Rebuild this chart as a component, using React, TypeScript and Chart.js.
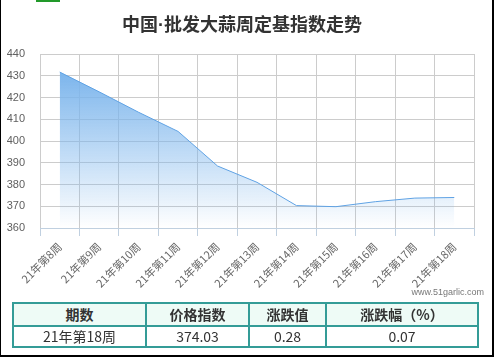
import React, { useEffect, useRef } from 'react';
import { Chart, registerables } from 'chart.js';

Chart.register(...registerables);

const titleText = '中国·批发大蒜周定基指数走势';
const categories = [
  '21年第8周', '21年第9周', '21年第10周', '21年第11周', '21年第12周', '21年第13周',
  '21年第14周', '21年第15周', '21年第16周', '21年第17周', '21年第18周',
];
const indexValues = [431.7, 422.6, 413.2, 404.4, 388.5, 381.0, 370.3, 369.8, 372.1, 373.75, 374.03];
const yTicks = [360, 370, 380, 390, 400, 410, 420, 430, 440];
const tableHeaders = ['期数', '价格指数', '涨跌值', '涨跌幅（%）'];
const tableRow = ['21年第18周', '374.03', '0.28', '0.07'];
const watermark = 'www.51garlic.com';

const W = 494;
const H = 357;
const CJK = '"Noto Sans CJK SC", "Noto Sans", sans-serif';
const LATIN = '"Liberation Sans", Arial, sans-serif';

// table geometry
const colEdges = [12, 145, 248, 325, 477];
const rowEdges = [302, 325, 346];
const LINE = 2;
const TEAL = '#349c97';

export default function App() {
  const ref = useRef<HTMLCanvasElement | null>(null);

  useEffect(() => {
    if (!ref.current) return;
    const maxVal = Math.max(...indexValues);
    const chart = new Chart(ref.current, {
      type: 'line',
      data: {
        labels: categories,
        datasets: [
          {
            data: indexValues,
            borderColor: '#5fa2e4',
            borderWidth: 1,
            pointRadius: 0,
            tension: 0,
            fill: 'start',
            backgroundColor: (ctx: any) => {
              const c = ctx.chart;
              const area = c.chartArea;
              if (!area) return 'rgba(124,181,236,0.5)';
              const top = c.scales.y.getPixelForValue(maxVal);
              const g = c.ctx.createLinearGradient(0, top, 0, area.bottom);
              g.addColorStop(0, 'rgba(124,181,236,1)');
              g.addColorStop(1, 'rgba(124,181,236,0)');
              return g;
            },
          },
        ],
      },
      options: {
        responsive: false,
        animation: false,
        layout: { padding: { top: 54, left: 0, right: 20, bottom: 0 } },
        plugins: {
          legend: { display: false },
          title: { display: false },
          tooltip: { enabled: false },
        },
        scales: {
          x: {
            type: 'category',
            offset: true,
            grid: {
              offset: true,
              color: '#cccccc',
              tickColor: '#c0d0e0',
              tickLength: 8,
              drawTicks: true,
            },
            border: { display: true, color: '#c0d0e0', width: 1 },
            ticks: {
              autoSkip: false,
              minRotation: 45,
              maxRotation: 45,
              padding: 4,
              color: '#666666',
              font: { family: CJK, size: 11 },
            },
            afterFit: (s: any) => {
              s.height = 129;
            },
          },
          y: {
            min: 360,
            max: 440,
            grid: { color: '#cccccc', drawTicks: false },
            border: { display: false },
            ticks: {
              padding: 15,
              color: '#606060',
              font: { family: LATIN, size: 11 },
            },
            afterBuildTicks: (s: any) => {
              s.ticks = yTicks.map((v) => ({ value: v }));
            },
            afterFit: (s: any) => {
              s.width = 40;
            },
          },
        },
      },
    });
    return () => chart.destroy();
  }, []);

  const cells: React.ReactNode[] = [];
  for (let r = 0; r < 2; r++) {
    const texts = r === 0 ? tableHeaders : tableRow;
    for (let c = 0; c < 4; c++) {
      const left = colEdges[c] + LINE;
      const top = rowEdges[r] + LINE;
      const width = colEdges[c + 1] - colEdges[c] - LINE;
      const height = rowEdges[r + 1] - rowEdges[r] - LINE;
      cells.push(
        <div
          key={`c${r}-${c}`}
          style={{
            position: 'absolute',
            left,
            top,
            width,
            height,
            background: r === 0 ? '#eefbf6' : '#ffffff',
            color: '#333333',
            fontFamily: CJK,
            fontSize: 14,
            fontWeight: r === 0 ? 'bold' : 'normal',
            lineHeight: `${height}px`,
            textAlign: 'center',
            whiteSpace: 'nowrap',
          }}
        >
          {texts[c]}
        </div>
      );
    }
  }
  const lines: React.ReactNode[] = [];
  colEdges.forEach((x, i) => {
    lines.push(
      <div
        key={`v${i}`}
        style={{
          position: 'absolute',
          left: x,
          top: rowEdges[0],
          width: LINE,
          height: rowEdges[2] - rowEdges[0] + LINE,
          background: TEAL,
        }}
      />
    );
  });
  rowEdges.forEach((y, i) => {
    lines.push(
      <div
        key={`h${i}`}
        style={{
          position: 'absolute',
          left: colEdges[0],
          top: y,
          width: colEdges[4] - colEdges[0] + LINE,
          height: LINE,
          background: TEAL,
        }}
      />
    );
  });

  const titleParts = titleText.split('·');

  return (
    <div
      style={{
        position: 'absolute',
        left: 0,
        top: 0,
        width: W,
        height: H,
        background: '#ffffff',
        overflow: 'hidden',
      }}
    >
      <canvas
        ref={ref}
        width={W}
        height={H}
        style={{ position: 'absolute', left: 0, top: 0, width: W, height: H, display: 'block' }}
      />
      <div
        style={{
          position: 'absolute',
          left: 0,
          top: 13,
          width: 484,
          height: 20,
          lineHeight: '20px',
          textAlign: 'center',
          fontFamily: CJK,
          fontWeight: 'bold',
          fontSize: 18,
          color: '#333333',
          whiteSpace: 'nowrap',
        }}
      >
        {titleParts[0]}
        <span style={{ fontFamily: LATIN }}>·</span>
        {titleParts[1]}
      </div>
      <div
        style={{
          position: 'absolute',
          right: W - 484,
          top: 286,
          height: 12,
          lineHeight: '12px',
          fontFamily: LATIN,
          fontSize: 9,
          color: '#777777',
          whiteSpace: 'nowrap',
        }}
      >
        {watermark}
      </div>
      {cells}
      {lines}
      <div style={{ position: 'absolute', left: 36, top: 0, width: 24, height: 2, background: '#22992a' }} />
      <div
        style={{
          position: 'absolute',
          left: 0,
          top: 0,
          width: W,
          height: H,
          boxSizing: 'border-box',
          borderLeft: '1px solid #000',
          borderRight: '2px solid #000',
          borderBottom: '2px solid #000',
          pointerEvents: 'none',
        }}
      />
    </div>
  );
}
